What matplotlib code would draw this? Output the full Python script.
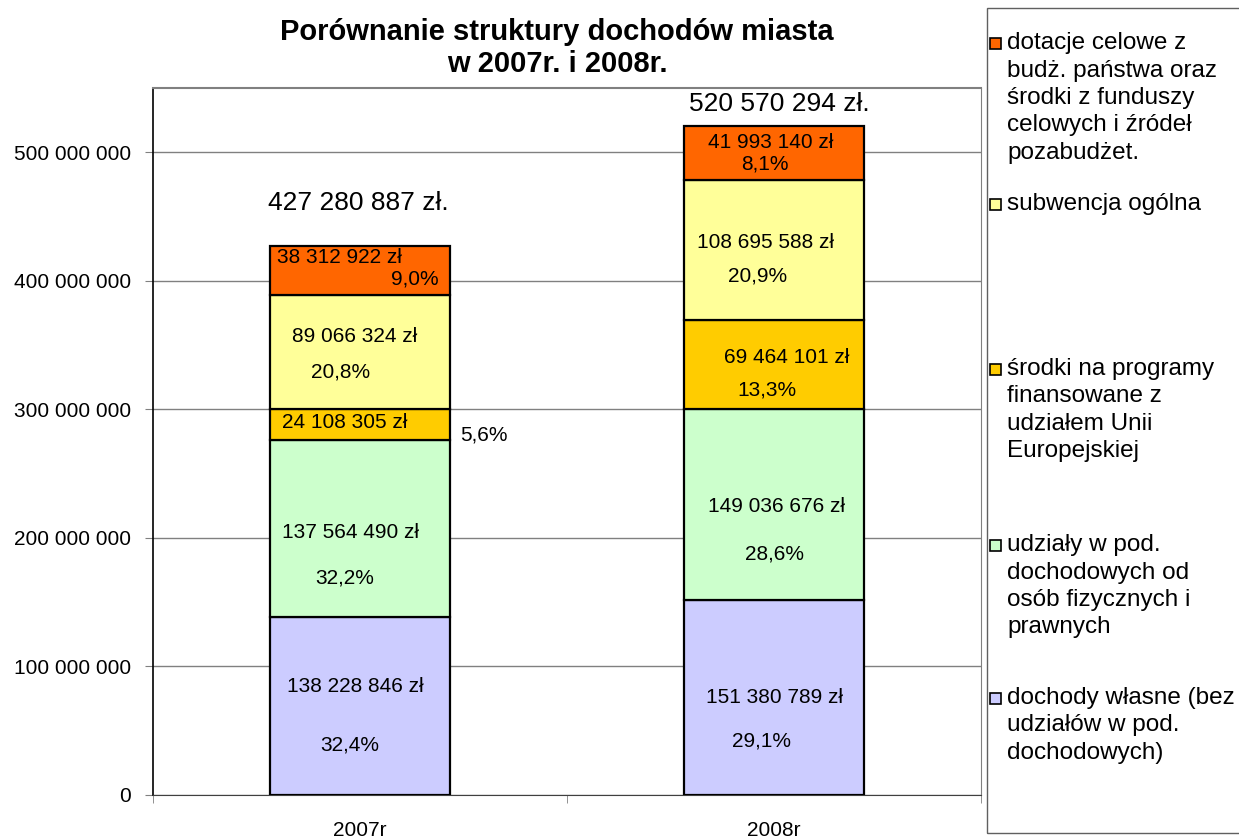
import numpy as np
import matplotlib
matplotlib.use('Agg')
import matplotlib.pyplot as plt
from matplotlib.patches import Rectangle
from matplotlib.ticker import FuncFormatter, MultipleLocator

plt.rcParams['font.family'] = ['Liberation Sans', 'DejaVu Sans']

# data
years = ['2007r', '2008r']
series_names = [
    'dochody własne (bez\nudziałów w pod.\ndochodowych)',
    'udziały w pod.\ndochodowych od\nosób fizycznych i\nprawnych',
    'środki na programy\nfinansowane z\nudziałem Unii\nEuropejskiej',
    'subwencja ogólna',
    'dotacje celowe z\nbudż. państwa oraz\nśrodki z funduszy\ncelowych i źródeł\npozabudżet.',
]
values_2007 = [138228846, 137564490, 24108305, 89066324, 38312922]
values_2008 = [151380789, 149036676, 69464101, 108695588, 41993140]
pct_2007 = ['32,4%', '32,2%', '5,6%', '20,8%', '9,0%']
pct_2008 = ['29,1%', '28,6%', '13,3%', '20,9%', '8,1%']
colors = ['#CCCCFF', '#CCFFCC', '#FFCC00', '#FFFF99', '#FF6600']


def fmt_num(v):
    return f'{v:,.0f}'.replace(',', ' ')


fig = plt.figure(figsize=(12.39, 8.39), dpi=100)
ax = fig.add_axes([153 / 1239, 44 / 839, 828 / 1239, 707 / 839])

vals = np.array([values_2007, values_2008])
x = np.arange(len(years))
bottoms = np.zeros(len(years))
for i in range(len(series_names)):
    ax.bar(x, vals[:, i], bottom=bottoms, width=0.435, color=colors[i],
           edgecolor='black', linewidth=1.6, zorder=3)
    bottoms += vals[:, i]
totals = bottoms

ax.set_xlim(-0.5, 1.5)
ax.set_ylim(0, 550e6)
ax.yaxis.set_major_locator(MultipleLocator(100e6))
ax.yaxis.set_major_formatter(FuncFormatter(lambda v, p: fmt_num(v)))
ax.grid(axis='y', color='#808080', linewidth=1.0, zorder=0)
ax.set_xticks(x)
ax.set_xticklabels(years)
ax.set_xticks([-0.5, 0.5, 1.5], minor=True)
ax.tick_params(axis='x', which='major', length=0, pad=19, labelsize=15)
ax.tick_params(axis='x', which='minor', length=6, color='#808080')
ax.tick_params(axis='y', length=6, color='#808080', labelsize=15, pad=10)
ax.spines['left'].set_color('black')
ax.spines['left'].set_linewidth(1.2)
ax.spines['bottom'].set_color('#404040')
for s in ['top', 'right']:
    ax.spines[s].set_color('#808080')
ax.spines['top'].set_linewidth(1.5)

# segment labels: (dx, frac for value, dx, frac for percent)
lab_pos_2007 = [(-0.012, 0.61, -0.024, 0.28), (-0.022, 0.48, -0.036, 0.22),
                (-0.036, 0.58, None, None), (-0.012, 0.64, -0.048, 0.33),
                (-0.2, 0.76, 0.19, 0.32)]
lab_pos_2008 = [(0.0, 0.50, -0.03, 0.28), (0.007, 0.49, 0.0, 0.24),
                (0.031, 0.57, -0.016, 0.21), (-0.02, 0.55, -0.04, 0.31),
                (-0.008, 0.70, -0.022, 0.29)]
fs = 15
for j, (row, pcts, pos) in enumerate([(values_2007, pct_2007, lab_pos_2007),
                                      (values_2008, pct_2008, lab_pos_2008)]):
    b = 0
    for i, v in enumerate(row):
        dx, fy, pdx, pfy = pos[i]
        ha = 'left' if (j == 0 and i == 4) else 'center'
        ax.text(j + dx, b + fy * v, fmt_num(v) + ' zł', ha=ha, va='center',
                fontsize=fs, zorder=5)
        if pdx is not None:
            pha = 'right' if (j == 0 and i == 4) else 'center'
            ax.text(j + pdx, b + pfy * v, pcts[i], ha=pha, va='center',
                    fontsize=fs, zorder=5)
        b += v
# outside 5,6% label for 2007
b07 = values_2007[0] + values_2007[1]
ax.text(0.30, b07 + 0.19 * values_2007[2], pct_2007[2], ha='center',
        va='center', fontsize=fs)

ax.text(-0.005, totals[0] + 33e6, fmt_num(totals[0]) + ' zł.', ha='center',
        va='center', fontsize=19)
ax.text(1.012, totals[1] + 17e6, fmt_num(totals[1]) + ' zł.', ha='center',
        va='center', fontsize=19)

fig.text(557 / 1239, 1 - 48 / 839,
         'Porównanie struktury dochodów miasta\nw 2007r. i 2008r.',
         ha='center', va='center', fontsize=21, fontweight='bold',
         linespacing=1.2)

# legend box drawn by hand (Excel-like spacing)
W, H = 1239.0, 839.0
fig.patches.append(Rectangle((987 / W, 1 - 833 / H), 260 / W, 825 / H,
                             transform=fig.transFigure, fill=False,
                             edgecolor='#606060', linewidth=1.0))
legend_first_line = [698, 545, 369, 204, 43]
line_h = 27.5
for i, name in enumerate(series_names):
    y0 = legend_first_line[i]
    fig.patches.append(Rectangle((990 / W, 1 - (y0 + 6) / H), 11 / W, 11 / H,
                                 transform=fig.transFigure, facecolor=colors[i],
                                 edgecolor='black', linewidth=1.2))
    for k, line in enumerate(name.split('\n')):
        fig.text(1007 / W, 1 - (y0 + k * line_h) / H, line, ha='left',
                 va='center', fontsize=17.5)

fig.savefig('out.png', dpi=100)
